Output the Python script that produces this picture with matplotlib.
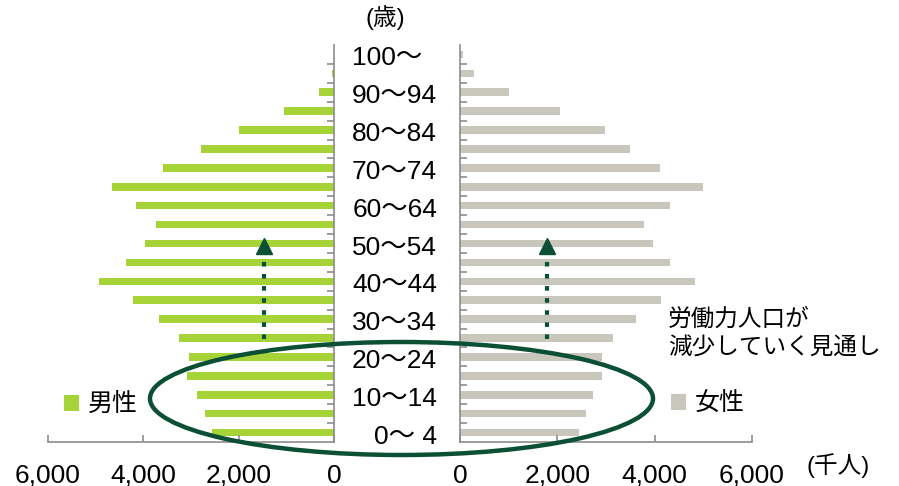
import matplotlib.pyplot as plt
import matplotlib.transforms as mtransforms
from matplotlib.patches import Ellipse
from matplotlib.lines import Line2D
import numpy as np

plt.rcParams["font.family"] = ["Liberation Sans", "Noto Sans CJK JP"]

# population by 5-year age group (thousands), youngest first
age_groups = ["0〜 4", "5〜9", "10〜14", "15〜19", "20〜24", "25〜29", "30〜34",
              "35〜39", "40〜44", "45〜49", "50〜54", "55〜59", "60〜64", "65〜69",
              "70〜74", "75〜79", "80〜84", "85〜89", "90〜94", "95〜99", "100〜"]
male = [2550, 2710, 2870, 3080, 3040, 3250, 3680, 4210, 4930, 4360, 3970,
        3740, 4160, 4660, 3580, 2790, 1990, 1050, 315, 45, 8]
female = [2440, 2590, 2730, 2920, 2920, 3150, 3610, 4120, 4820, 4320, 3970,
          3790, 4310, 4990, 4110, 3490, 2970, 2060, 1010, 280, 55]
x_ticks = [0, 2000, 4000, 6000]
x_ticklabels = ["0", "2,000", "4,000", "6,000"]

GREEN = "#a6d337"
GRAY = "#c9c6bc"
DARK = "#0b4f35"
AXIS = "#8c8c8c"
W, H = 899, 486
FS = 19


def px(x, y):
    # pixel position measured from the top-left corner -> figure fraction
    return x / W, 1 - y / H


fig = plt.figure(figsize=(W / 100, H / 100), dpi=100)
ax_m = fig.add_axes([48 / W, 44 / H, 286 / W, 397 / H])
ax_f = fig.add_axes([460 / W, 44 / H, 292 / W, 397 / H])

y = np.arange(len(age_groups))
ax_m.barh(y, male, height=0.4, color=GREEN, label="男性")
ax_f.barh(y, female, height=0.4, color=GRAY, label="女性")

ax_m.set_xlim(6000, 0)
ax_f.set_xlim(0, 6000)

for ax, side in ((ax_m, "right"), (ax_f, "left")):
    ax.set_ylim(-0.5, len(age_groups) - 0.5)
    for s in ("top", "left", "right"):
        ax.spines[s].set_visible(s == side)
    for s in ("bottom", side):
        ax.spines[s].set_color(AXIS)
        ax.spines[s].set_linewidth(1.2)
    ax.set_xticks(x_ticks)
    ax.set_xticklabels(x_ticklabels)
    ax.set_yticks(np.arange(0.5, len(age_groups) - 1, 1.0))
    ax.set_yticklabels([])
    ax.tick_params(axis="x", direction="in", length=5, width=1.2, color=AXIS,
                   labelsize=FS, pad=15.5)
    ax.tick_params(axis="y", direction="in", length=5, width=1.2, color=AXIS,
                   left=(side == "left"), right=(side == "right"),
                   labelleft=False, labelright=False)

# age labels down the middle, every other group (baseline sits just below row centre)
trans = mtransforms.blended_transform_factory(fig.transFigure, ax_m.transData)
trans = mtransforms.offset_copy(trans, fig=fig, y=-11, units="dots")
for i, lab in enumerate(age_groups):
    if i % 2:
        continue
    if lab.endswith("〜"):
        fig.text(352 / W, i, lab, transform=trans, ha="left", va="baseline", fontsize=FS)
    else:
        fig.text(437 / W, i, lab, transform=trans, ha="right", va="baseline", fontsize=FS)

fig.text(*px(385, 18), "(歳)", ha="center", va="center", fontsize=17)
fig.text(*px(838, 466), "(千人)", ha="center", va="center", fontsize=17)

ax_m.legend(loc="center left", bbox_to_anchor=px(64, 405), bbox_transform=fig.transFigure,
            frameon=False, fontsize=18, handlelength=0.58, handleheight=0.58,
            handletextpad=0.38, borderpad=0, borderaxespad=0)
ax_f.legend(loc="center left", bbox_to_anchor=px(671, 404), bbox_transform=fig.transFigure,
            frameon=False, fontsize=18, handlelength=0.58, handleheight=0.58,
            handletextpad=0.38, borderpad=0, borderaxespad=0)

fig.text(*px(668, 334), "労働力人口が\n減少していく見通し", ha="left", va="center",
         fontsize=17, linespacing=1.35)

# shrinking working-age population: circled youth, dotted arrows upward
fig.add_artist(Ellipse(px(401.5, 398.5), 503 / W, 113 / H, transform=fig.transFigure,
                       fill=False, edgecolor=DARK, linewidth=3.2, zorder=5))
for xa in (263.5, 547):
    x0, y0 = px(xa, 339)
    x1, y1 = px(xa, 255)
    fig.add_artist(Line2D([x0, x1], [y0, y1], transform=fig.transFigure, color=DARK,
                          linewidth=3, linestyle=(0, (1.1, 1.8)),
                          dash_capstyle="butt", zorder=5))
    xh, yh = px(xa, 246.5)
    fig.add_artist(Line2D([xh], [yh], transform=fig.transFigure, marker="^",
                          markersize=12, color=DARK, linestyle="none", zorder=5))

fig.savefig("out.png", dpi=100)
